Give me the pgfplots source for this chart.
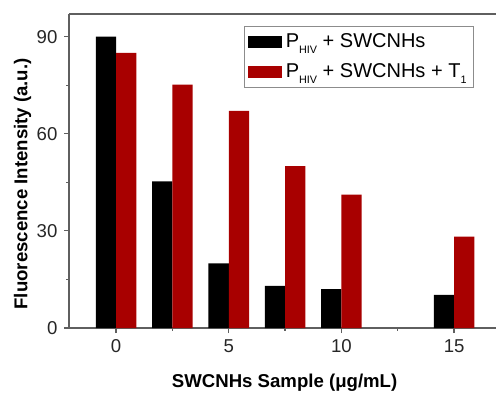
\documentclass[border=0pt]{standalone}
\usepackage{pgfplots}
\pgfplotsset{compat=1.18}
\usepackage{fontspec}
\setmainfont{Liberation Sans}
\definecolor{barred}{RGB}{168,0,0}
\definecolor{axgray}{RGB}{95,95,95}
\newcommand{\sub}[1]{\raisebox{-3pt}{\fontsize{5.4}{6}\selectfont #1}}
\begin{document}
\fontsize{9.3}{11}\selectfont
\begin{tikzpicture}
\begin{axis}[
  name=ax, at={(0,0)}, anchor=south west,
  scale only axis, width=213.5pt, height=157pt,
  xmin=-2.09, xmax=16.86, ymin=0, ymax=97,
  axis x line=box, axis y line=left,
  axis line style={-, axgray, line width=0.6pt},
  xtick={0,5,10,15}, minor xtick={2.5,7.5,12.5},
  ytick={0,30,60,90}, minor ytick={15,45,75},
  xtick pos=bottom, ytick pos=left,
  tick align=outside, major tick length=2.5pt, minor tick length=1.3pt,
  every tick/.style={axgray, line width=0.6pt},
  /pgf/number format/assume math mode=true,
  ticklabel style={font=\fontsize{9.3}{11}\selectfont, text=black!85},
  label style={font=\bfseries\fontsize{9.3}{11}\selectfont},
  xlabel={SWCNHs Sample (μg/mL)},
  ylabel={Fluorescence Intensity (a.u.)},
  x label style={at={(axis description cs:0.505,0)}, anchor=base, yshift=-29.5pt},
  y label style={at={(axis description cs:-0.0972,0.459)}, anchor=base},
  legend cell align=left,
  legend style={at={(axis description cs:1,1)}, anchor=north east, xshift=-11pt, yshift=-6pt,
    draw=black!45, line width=0.5pt, inner sep=1.5pt, row sep=2.5pt,
    font=\fontsize{10}{11}\selectfont,
    /tikz/every even column/.append style={column sep=1.5pt}},
]
\addplot[ybar, bar width=10.14pt, bar shift=-5.07pt, fill=black, draw=none,
  legend image code/.code={\fill[black] (0pt,-3pt) rectangle (17pt,3pt);}]
  coordinates {(0,90) (2.5,45.3) (5,20) (7.5,13) (10,12) (15,10.2)};
\addlegendentry{P\sub{HIV} + SWCNHs}
\addplot[ybar, bar width=10.14pt, bar shift=5.07pt, fill=barred, draw=none,
  legend image code/.code={\fill[barred] (0pt,-3pt) rectangle (17pt,3pt);}]
  coordinates {(0,85) (2.5,75.2) (5,67.1) (7.5,50) (10,41.2) (15,28.2)};
\addlegendentry{P\sub{HIV} + SWCNHs + T\sub{1}}
\end{axis}
\pgfresetboundingbox
\path (ax.south west) ++(-34.5pt,-32pt) rectangle ++(248pt,196pt);
\end{tikzpicture}
\end{document}
